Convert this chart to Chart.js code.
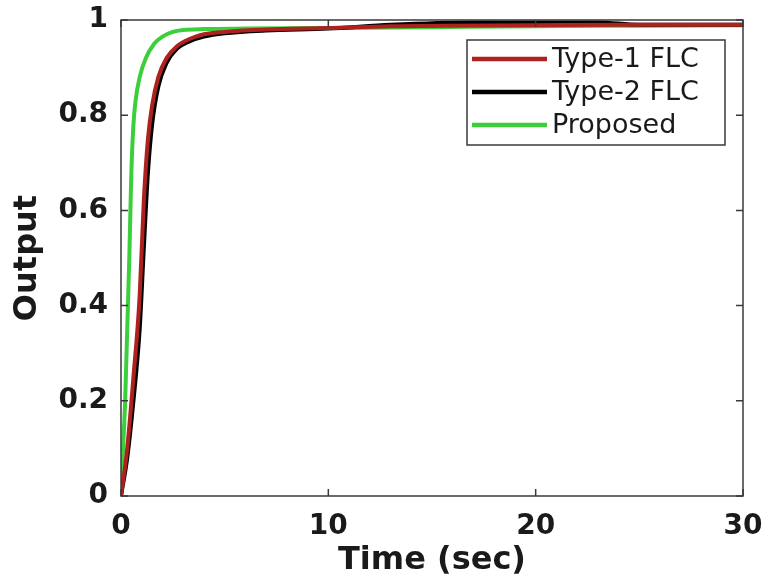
<!DOCTYPE html>
<html>
<head>
<meta charset="utf-8">
<script src="https://cdn.jsdelivr.net/npm/chart.js@4.4.1/dist/chart.umd.min.js"></script>
<style>
  html, body { margin: 0; padding: 0; background: #ffffff; }
  #wrap { width: 768px; height: 580px; position: relative; }
</style>
</head>
<body>
<div id="wrap"><canvas id="c" width="768" height="580"></canvas></div>
<script>
// Step responses of the three controllers
const seriesNames = ['Type-1 FLC', 'Type-2 FLC', 'Proposed'];
const seriesColors = ['#ad221e', '#000000', '#3ccf3c'];

const type1Time  = [0, 0.3, 0.6, 0.9, 1.1, 1.3, 1.5, 1.8, 2.2, 2.7, 3.3, 4, 5, 7, 10, 13, 20, 25, 30];
const type1Value = [0, 0.1, 0.25, 0.42, 0.62, 0.75, 0.82, 0.88, 0.92, 0.945, 0.96, 0.97, 0.975, 0.98, 0.983, 0.987, 0.989, 0.99, 0.99];

const type2Time  = [0, 0.3, 0.6, 0.9, 1.1, 1.3, 1.5, 1.8, 2.2, 2.7, 3.3, 4, 5, 7, 10, 13, 17, 20, 23, 25, 30];
const type2Value = [0, 0.08, 0.2, 0.35, 0.52, 0.68, 0.78, 0.86, 0.91, 0.94, 0.955, 0.965, 0.972, 0.978, 0.982, 0.99, 0.995, 0.995, 0.995, 0.99, 0.99];

const propTime  = [0, 0.1, 0.2, 0.3, 0.4, 0.5, 0.6, 0.7, 0.9, 1.2, 1.6, 2.0, 2.5, 3, 4, 6, 10, 15, 20, 25, 30];
const propValue = [0, 0.1, 0.2, 0.35, 0.5, 0.68, 0.78, 0.83, 0.88, 0.92, 0.95, 0.965, 0.975, 0.979, 0.981, 0.982, 0.983, 0.985, 0.987, 0.988, 0.989];

const xTicks = [0, 10, 20, 30];
const yTicks = [0, 0.2, 0.4, 0.6, 0.8, 1];

function pts(t, v) { return t.map((x, i) => ({ x: x, y: v[i] })); }

const tickFont = { family: 'DejaVu Sans', weight: 'bold', size: 28 };
const titleFont = { family: 'DejaVu Sans', weight: 'bold', size: 32 };

// Box frame, inward tick marks and the boxed legend
const framePlugin = {
  id: 'frame',
  afterDatasetsDraw(chart) {
    const { ctx, chartArea: a, scales } = chart;
    ctx.save();
    ctx.strokeStyle = '#3a3a3a';
    ctx.lineWidth = 1.5;
    ctx.strokeRect(a.left, a.top, a.right - a.left, a.bottom - a.top);
    const len = 7;
    ctx.beginPath();
    xTicks.forEach(v => {
      const px = scales.x.getPixelForValue(v);
      ctx.moveTo(px, a.bottom); ctx.lineTo(px, a.bottom - len);
      ctx.moveTo(px, a.top); ctx.lineTo(px, a.top + len);
    });
    yTicks.forEach(v => {
      const py = scales.y.getPixelForValue(v);
      ctx.moveTo(a.left, py); ctx.lineTo(a.left + len, py);
      ctx.moveTo(a.right, py); ctx.lineTo(a.right - len, py);
    });
    ctx.stroke();

    // legend
    const bx = 467, by = 40, bw = 258, bh = 105;
    ctx.fillStyle = '#ffffff';
    ctx.fillRect(bx, by, bw, bh);
    ctx.strokeStyle = '#3a3a3a';
    ctx.lineWidth = 1.5;
    ctx.strokeRect(bx, by, bw, bh);
    ctx.font = '27px "DejaVu Sans"';
    ctx.textBaseline = 'middle';
    ctx.textAlign = 'left';
    const rows = [59, 92, 125];
    seriesNames.forEach((name, i) => {
      ctx.strokeStyle = seriesColors[i];
      ctx.lineWidth = 4.5;
      ctx.beginPath();
      ctx.moveTo(472, rows[i]);
      ctx.lineTo(547, rows[i]);
      ctx.stroke();
      ctx.fillStyle = '#1a1a1a';
      ctx.fillText(name, 552, rows[i] + 1);
    });
    ctx.restore();
  }
};

new Chart(document.getElementById('c'), {
  type: 'line',
  data: {
    datasets: [
      { label: seriesNames[0], data: pts(type1Time, type1Value), borderColor: seriesColors[0] },
      { label: seriesNames[1], data: pts(type2Time, type2Value), borderColor: seriesColors[1] },
      { label: seriesNames[2], data: pts(propTime, propValue), borderColor: seriesColors[2] }
    ].map(d => Object.assign(d, { borderWidth: 4, pointRadius: 0, fill: false, cubicInterpolationMode: 'monotone' }))
  },
  options: {
    responsive: false,
    animation: false,
    layout: { padding: { left: 0, right: 25, top: 20, bottom: 0 } },
    plugins: { legend: { display: false }, tooltip: { enabled: false } },
    scales: {
      x: {
        type: 'linear', min: 0, max: 30,
        afterBuildTicks: s => { s.ticks = xTicks.map(v => ({ value: v })); },
        afterFit: s => { s.height = 84; s.paddingLeft = 0; s.paddingRight = 0; },
        grid: { display: false, drawTicks: false },
        border: { display: false },
        ticks: { font: tickFont, color: '#1a1a1a', padding: 14, maxRotation: 0 },
        title: { display: true, text: 'Time (sec)', font: titleFont, color: '#1a1a1a', padding: { top: 0, bottom: 0 } }
      },
      y: {
        type: 'linear', min: 0, max: 1,
        afterBuildTicks: s => { s.ticks = yTicks.map(v => ({ value: v })); },
        afterFit: s => { s.width = 121; s.paddingTop = 0; s.paddingBottom = 0; },
        grid: { display: false, drawTicks: false },
        border: { display: false },
        ticks: { font: tickFont, color: '#1a1a1a', padding: 13, callback: v => String(v) },
        title: { display: true, text: 'Output', font: titleFont, color: '#1a1a1a', padding: { top: 8, bottom: 0 } }
      }
    }
  },
  plugins: [framePlugin]
});
</script>
</body>
</html>
